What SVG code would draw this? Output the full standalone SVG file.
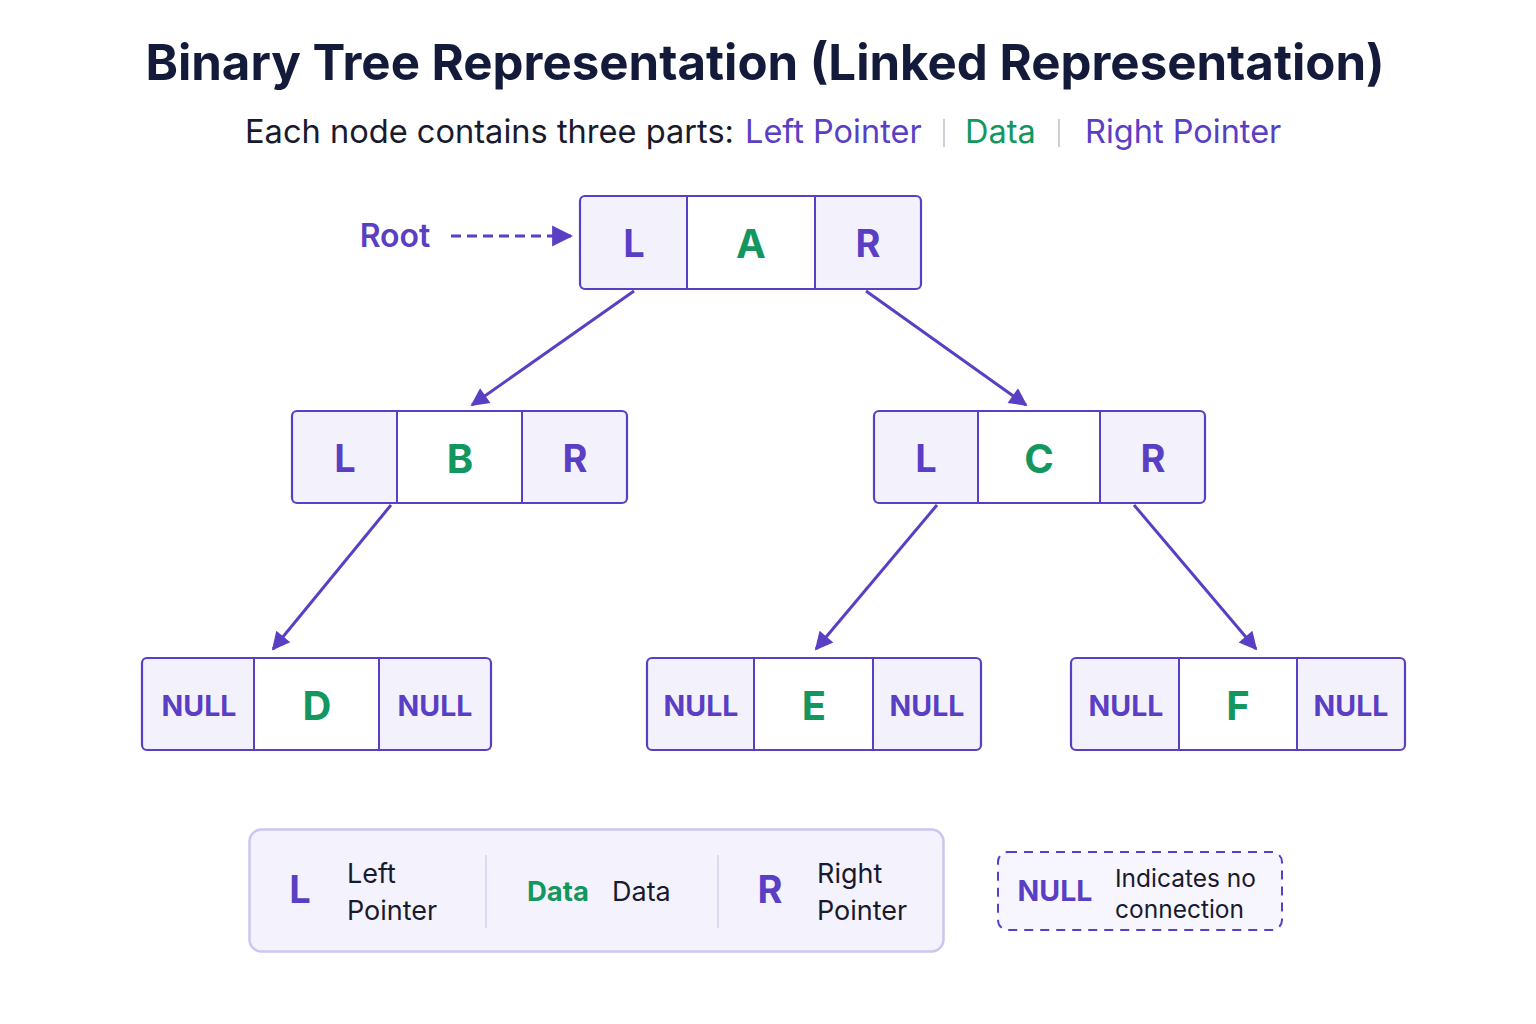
<svg xmlns="http://www.w3.org/2000/svg" width="1536" height="1024" viewBox="0 0 1536 1024">
<defs>
<marker id="arr" viewBox="0 0 10 10" refX="9" refY="5" markerWidth="7" markerHeight="6" markerUnits="strokeWidth" orient="auto">
<path d="M0,0 L10,5 L0,10 z" fill="#5a3fc4"/>
</marker>
<marker id="arr2" viewBox="0 0 10 10" refX="9" refY="5" markerWidth="7" markerHeight="8" markerUnits="strokeWidth" orient="auto">
<path d="M0,0 L10,5 L0,10 z" fill="#5a3fc4"/>
</marker>
</defs>
<style>
text{font-family:Inter,"Noto Sans","Liberation Sans",sans-serif}
.ptr{fill:#f3f2fc}
.dat{fill:#ffffff}
.box{fill:none;stroke:#5a3fc4;stroke-width:2.2}
.div{stroke:#5a3fc4;stroke-width:2}
.pl{fill:#5a3fc4;font-weight:700;font-size:38px;text-anchor:middle}
.dl{fill:#13975f;font-weight:700;font-size:40px;text-anchor:middle}
.nl{fill:#5a3fc4;font-weight:700;font-size:28.5px;text-anchor:middle}
.edge{stroke:#5a3fc4;stroke-width:3;fill:none;marker-end:url(#arr)}
.lg{fill:#1a1a2e;font-size:27px}
.sub{font-size:32.5px}
</style>
<rect width="1536" height="1024" fill="#ffffff"/>
<text x="765" y="80" text-anchor="middle" font-size="49.2" font-weight="700" fill="#141b3a">Binary Tree Representation (Linked Representation)</text>
<g id="subtitle">
<text x="245" y="143" class="sub" fill="#1a1a2e" textLength="489" lengthAdjust="spacingAndGlyphs">Each node contains three parts:</text>
<text x="745" y="143" class="sub" fill="#5a3fc4">Left Pointer</text>
<line x1="944" y1="119" x2="944" y2="147" stroke="#cfcfd6" stroke-width="2"/>
<text x="965" y="143" class="sub" fill="#13975f">Data</text>
<line x1="1059" y1="119" x2="1059" y2="147" stroke="#cfcfd6" stroke-width="2"/>
<text x="1085" y="143" class="sub" fill="#5a3fc4">Right Pointer</text>
</g>

<g id="root-label">
<text x="395" y="247" text-anchor="middle" font-size="32" font-weight="600" fill="#5a3fc4">Root</text>
<line x1="451" y1="236" x2="571" y2="236" stroke="#5a3fc4" stroke-width="3" stroke-dasharray="10,6" marker-end="url(#arr2)"/>
</g>

<g id="node-A">
<rect x="580" y="196" width="107" height="93" class="ptr"/>
<rect x="687" y="196" width="128" height="93" class="dat"/>
<rect x="815" y="196" width="106" height="93" class="ptr"/>
<rect x="580" y="196" width="341" height="93" rx="5" class="box"/>
<line x1="687" y1="196" x2="687" y2="289" class="div"/>
<line x1="815" y1="196" x2="815" y2="289" class="div"/>
<text x="634" y="257" class="pl">L</text>
<text x="751" y="258" class="dl">A</text>
<text x="868" y="257" class="pl">R</text>
</g>

<g id="node-B">
<rect x="292" y="411" width="105" height="92" class="ptr"/>
<rect x="397" y="411" width="125" height="92" class="dat"/>
<rect x="522" y="411" width="105" height="92" class="ptr"/>
<rect x="292" y="411" width="335" height="92" rx="5" class="box"/>
<line x1="397" y1="411" x2="397" y2="503" class="div"/>
<line x1="522" y1="411" x2="522" y2="503" class="div"/>
<text x="345" y="472" class="pl">L</text>
<text x="460" y="473" class="dl">B</text>
<text x="575" y="472" class="pl">R</text>
</g>

<g id="node-C">
<rect x="874" y="411" width="104" height="92" class="ptr"/>
<rect x="978" y="411" width="122" height="92" class="dat"/>
<rect x="1100" y="411" width="105" height="92" class="ptr"/>
<rect x="874" y="411" width="331" height="92" rx="5" class="box"/>
<line x1="978" y1="411" x2="978" y2="503" class="div"/>
<line x1="1100" y1="411" x2="1100" y2="503" class="div"/>
<text x="926" y="472" class="pl">L</text>
<text x="1039" y="473" class="dl">C</text>
<text x="1153" y="472" class="pl">R</text>
</g>

<g id="node-D">
<rect x="142" y="658" width="112" height="92" class="ptr"/>
<rect x="254" y="658" width="125" height="92" class="dat"/>
<rect x="379" y="658" width="112" height="92" class="ptr"/>
<rect x="142" y="658" width="349" height="92" rx="5" class="box"/>
<line x1="254" y1="658" x2="254" y2="750" class="div"/>
<line x1="379" y1="658" x2="379" y2="750" class="div"/>
<text x="199" y="716" class="nl">NULL</text>
<text x="317" y="720" class="dl">D</text>
<text x="435" y="716" class="nl">NULL</text>
</g>

<g id="node-E">
<rect x="647" y="658" width="107" height="92" class="ptr"/>
<rect x="754" y="658" width="119" height="92" class="dat"/>
<rect x="873" y="658" width="108" height="92" class="ptr"/>
<rect x="647" y="658" width="334" height="92" rx="5" class="box"/>
<line x1="754" y1="658" x2="754" y2="750" class="div"/>
<line x1="873" y1="658" x2="873" y2="750" class="div"/>
<text x="701" y="716" class="nl">NULL</text>
<text x="814" y="720" class="dl">E</text>
<text x="927" y="716" class="nl">NULL</text>
</g>

<g id="node-F">
<rect x="1071" y="658" width="108" height="92" class="ptr"/>
<rect x="1179" y="658" width="118" height="92" class="dat"/>
<rect x="1297" y="658" width="108" height="92" class="ptr"/>
<rect x="1071" y="658" width="334" height="92" rx="5" class="box"/>
<line x1="1179" y1="658" x2="1179" y2="750" class="div"/>
<line x1="1297" y1="658" x2="1297" y2="750" class="div"/>
<text x="1126" y="716" class="nl">NULL</text>
<text x="1238" y="720" class="dl">F</text>
<text x="1351" y="716" class="nl">NULL</text>
</g>

<g id="connectors">
<line x1="634" y1="291" x2="472" y2="405" class="edge"/>
<line x1="866" y1="291" x2="1026" y2="405" class="edge"/>
<line x1="391" y1="505" x2="273" y2="649" class="edge"/>
<line x1="937" y1="505" x2="816" y2="649" class="edge"/>
<line x1="1134" y1="505" x2="1256" y2="649" class="edge"/>
</g>

<g id="legend">
<rect x="249.5" y="829.5" width="694" height="122" rx="12" fill="#f4f3fd" stroke="#cbc5ef" stroke-width="2.5"/>
<line x1="486" y1="855" x2="486" y2="928" stroke="#d4d0ea" stroke-width="1.5"/>
<line x1="718" y1="855" x2="718" y2="928" stroke="#d4d0ea" stroke-width="1.5"/>
<text x="300" y="903" text-anchor="middle" font-size="38" font-weight="700" fill="#5a3fc4">L</text>
<text x="347" y="883" class="lg">Left</text>
<text x="347" y="920" class="lg">Pointer</text>
<text x="558" y="901" text-anchor="middle" font-size="27.5" font-weight="700" fill="#13975f">Data</text>
<text x="612" y="901" class="lg">Data</text>
<text x="770" y="903" text-anchor="middle" font-size="38" font-weight="700" fill="#5a3fc4">R</text>
<text x="817" y="883" class="lg">Right</text>
<text x="817" y="920" class="lg">Pointer</text>
</g>

<g id="null-legend">
<rect x="998" y="852" width="284" height="78" rx="10" fill="#f7f6fe" stroke="#5a3fc4" stroke-width="2" stroke-dasharray="9,7"/>
<text x="1055" y="901" text-anchor="middle" font-size="28.5" font-weight="700" fill="#5a3fc4">NULL</text>
<text x="1115" y="887" font-size="24.5" fill="#1a1a2e">Indicates no</text>
<text x="1115" y="918" font-size="24.5" fill="#1a1a2e">connection</text>
</g>
</svg>
